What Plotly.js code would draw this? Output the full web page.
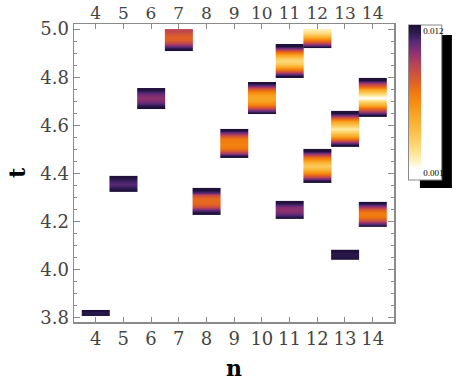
<!DOCTYPE html>
<html>
<head>
<meta charset="utf-8">
<script src="https://cdn.plot.ly/plotly-3.0.1.min.js"></script>
<style>
  html, body { margin: 0; padding: 0; background: #fff; }
  #plot { width: 463px; height: 382px; }
</style>
</head>
<body>
<div id="plot"></div>
<script>
// density patches, one per (n, t) block; z listed bottom -> top
const PATCH_N  = [4, 5, 6, 7, 8, 9, 10, 11, 11, 12, 12, 13, 13, 14, 14];
const PATCH_T0 = [3.808, 4.324, 4.668, 4.909, 4.228, 4.465, 4.647, 4.797, 4.212, 4.920, 4.361, 4.510, 4.041, 4.635, 4.178];
const PATCH_T1 = [3.833, 4.390, 4.755, 5.000, 4.340, 4.585, 4.780, 4.938, 4.286, 5.000, 4.502, 4.660, 4.083, 4.797, 4.282];
const PATCH_Z = [
    [0.0124, 0.0121, 0.0120, 0.0121, 0.0124],
    [0.0124, 0.0119, 0.0114, 0.0112, 0.0114, 0.0119, 0.0124],
    [0.0124, 0.0114, 0.0106, 0.0103, 0.0106, 0.0114, 0.0124],
    [0.0124, 0.0108, 0.0092, 0.0082, 0.0080, 0.0085, 0.0092],
    [0.0124, 0.0110, 0.0090, 0.0079, 0.0077, 0.0079, 0.0090, 0.0110, 0.0124],
    [0.0124, 0.0105, 0.0085, 0.0072, 0.0069, 0.0070, 0.0072, 0.0085, 0.0105, 0.0124],
    [0.0124, 0.0105, 0.0082, 0.0066, 0.0057, 0.0054, 0.0057, 0.0066, 0.0082, 0.0105, 0.0124],
    [0.0124, 0.0100, 0.0075, 0.0055, 0.0038, 0.0030, 0.0038, 0.0055, 0.0075, 0.0100, 0.0124],
    [0.0124, 0.0113, 0.0105, 0.0103, 0.0105, 0.0113, 0.0124],
    [0.0124, 0.0100, 0.0078, 0.0065, 0.0045, 0.0030, 0.0022],
    [0.0124, 0.0100, 0.0078, 0.0060, 0.0045, 0.0036, 0.0045, 0.0060, 0.0078, 0.0100, 0.0124],
    [0.0124, 0.0100, 0.0075, 0.0052, 0.0035, 0.0023, 0.0035, 0.0052, 0.0075, 0.0100, 0.0124],
    [0.0124, 0.0121, 0.0120, 0.0121, 0.0124],
    [0.0124, 0.0100, 0.0075, 0.0050, 0.0030, 0.0012, 0.0030, 0.0050, 0.0075, 0.0100, 0.0124],
    [0.0124, 0.0105, 0.0085, 0.0073, 0.0071, 0.0073, 0.0085, 0.0105, 0.0124],
];

const N_TICKS = [4, 5, 6, 7, 8, 9, 10, 11, 12, 13, 14];
const CBAR_VALS = [0.001, 0.012];
const CBAR_TEXT = ['0.001', '0.012'];

const COLORSCALE = [
    [0.00, '#ffffff'], [0.07, '#ffffff'], [0.11, '#fff4c8'], [0.175, '#fee490'],
    [0.24, '#fdd068'], [0.305, '#fcc048'], [0.37, '#fab030'], [0.435, '#f8a020'],
    [0.50, '#f88a10'], [0.565, '#f07810'], [0.63, '#e06028'], [0.695, '#cc5040'],
    [0.76, '#b04060'], [0.825, '#8a3070'], [0.89, '#5a2a78'], [0.95, '#2d1a50'],
    [1.00, '#1e1038'],
];

const traces = PATCH_N.map((n, i) => {
    const t0 = PATCH_T0[i], t1 = PATCH_T1[i];
    const z = PATCH_Z[i];
    const h = (t1 - t0) / z.length;
    return {
        type: 'heatmap',
        x: [n - 0.25, n + 0.25],
        y: z.map((_, j) => t0 + h * (j + 0.5)),
        z: z.map(v => [v, v]),
        zsmooth: 'best',
        coloraxis: 'coloraxis',
        hoverinfo: 'skip',
    };
});
// empty trace so the top axis gets drawn
traces.push({ type: 'scatter', x: [], y: [], xaxis: 'x2', yaxis: 'y', hoverinfo: 'skip' });

const SERIF = 'DejaVu Serif, serif';
const AX = '#8a8a8a';
const tickFont = { family: SERIF, size: 18, color: '#444' };

const layout = {
    width: 463, height: 382,
    margin: { l: 74, r: 69, t: 24, b: 60 },
    paper_bgcolor: '#fff', plot_bgcolor: '#fff',
    showlegend: false,
    xaxis: {
        range: [3.22, 14.77], tickvals: N_TICKS,
        ticks: 'inside', ticklen: 5, tickcolor: AX, tickwidth: 1,
        showline: true, linecolor: AX, linewidth: 1.5,
        showgrid: false, zeroline: false,
        tickfont: tickFont,
        title: { text: 'n', font: { family: SERIF, size: 22, weight: 'bold', color: '#000' }, standoff: 12 },
    },
    xaxis2: {
        overlaying: 'x', anchor: 'y', side: 'top',
        range: [3.22, 14.77], tickvals: N_TICKS,
        ticks: 'inside', ticklen: 5, tickcolor: AX, tickwidth: 1,
        showline: true, linecolor: AX, linewidth: 1.5,
        showgrid: false, zeroline: false,
        tickfont: { family: SERIF, size: 17, color: '#444' },
        ticklabelstandoff: -3,
    },
    yaxis: {
        range: [3.783, 5.021], tick0: 3.8, dtick: 0.2, tickformat: '.1f',
        ticks: 'inside', ticklen: 6, tickcolor: AX, tickwidth: 1,
        minor: { dtick: 0.05, ticks: 'inside', ticklen: 3, tickcolor: AX, showgrid: false },
        showline: true, linecolor: AX, linewidth: 1.5, mirror: 'ticks',
        showgrid: false, zeroline: false,
        tickfont: tickFont,
        title: { text: 't', font: { family: SERIF, size: 22, weight: 'bold', color: '#000' }, standoff: 8 },
    },
    coloraxis: {
        cmin: 0.000535, cmax: 0.012465,
        colorscale: COLORSCALE,
        colorbar: {
            x: 1.047, xanchor: 'left', y: 0.9966, yanchor: 'top',
            len: 154, lenmode: 'pixels', thickness: 12,
            xpad: 0, ypad: 0, outlinewidth: 0,
            borderwidth: 1, bordercolor: AX, bgcolor: '#fff',
            tickvals: CBAR_VALS, ticktext: CBAR_TEXT, ticks: '',
            tickfont: { family: 'Liberation Serif, serif', size: 9, color: '#000' },
        },
    },
    shapes: [{
        type: 'rect', xref: 'paper', yref: 'paper',
        x0: 1.081, x1: 1.181, y0: 0.4497, y1: 0.963,
        fillcolor: '#000', line: { width: 0 },
    }],
};

Plotly.newPlot('plot', traces, layout, { displayModeBar: false, staticPlot: true });
</script>
</body>
</html>
